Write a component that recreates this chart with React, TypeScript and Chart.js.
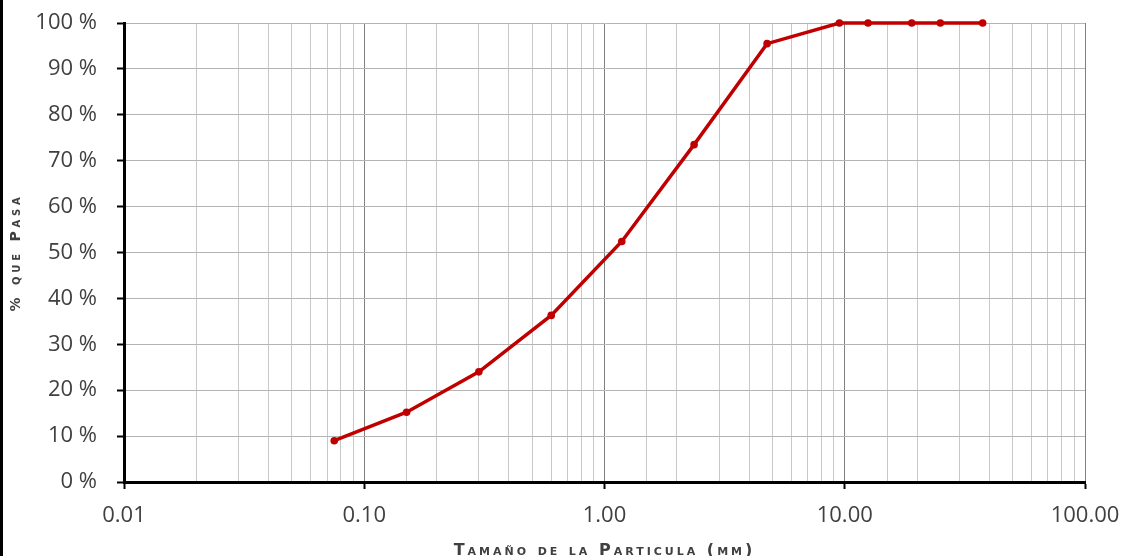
import React, { useEffect, useRef } from "react";
import { Chart, registerables } from "chart.js";

Chart.register(...registerables);

const sieveSizes = [0.075, 0.15, 0.3, 0.6, 1.18, 2.36, 4.75, 9.5, 12.5, 19, 25, 37.5];
const percentPassing = [9, 15.2, 24, 36.3, 52.4, 73.5, 95.5, 100, 100, 100, 100, 100];
const xTickLabels = ["0.01", "0.10", "1.00", "10.00", "100.00"];
const xTitle = "Tamaño de la Particula (mm)";
const yTitle = "% que Pasa";

const isPow10 = (v: number) => {
  const l = Math.log10(v);
  return Math.abs(l - Math.round(l)) < 1e-6;
};

const titleSpacing: Record<string, string> = { x: "3px", y: "3.8px" };

const spacedTitles = {
  id: "spacedTitles",
  afterLayout(chart: any) {
    for (const id of Object.keys(titleSpacing)) {
      const s = chart.scales[id];
      if (!s || s.__spaced) continue;
      const orig = s.drawTitle;
      s.drawTitle = function (...args: any[]) {
        const ctx = this.ctx;
        ctx.save();
        (ctx as any).letterSpacing = titleSpacing[id];
        orig.apply(this, args);
        ctx.restore();
      };
      s.__spaced = true;
    }
  },
};

export default function App() {
  const ref = useRef<HTMLCanvasElement | null>(null);
  useEffect(() => {
    if (!ref.current) return;
    const chart = new Chart(ref.current, {
      type: "line",
      data: {
        datasets: [
          {
            data: sieveSizes.map((x, i) => ({ x, y: percentPassing[i] })),
            borderColor: "#c00000",
            backgroundColor: "#c00000",
            borderWidth: 3.5,
            pointRadius: 3.8,
            pointBorderWidth: 0,
            tension: 0,
            clip: false as any,
          },
        ],
      },
      plugins: [spacedTitles],
      options: {
        animation: false,
        responsive: true,
        maintainAspectRatio: false,
        layout: { padding: { left: 0, right: 40, top: 23, bottom: 0 } },
        plugins: { legend: { display: false }, tooltip: { enabled: false } },
        scales: {
          x: {
            type: "logarithmic",
            min: 0.01,
            max: 100,
            afterFit: (s: any) => {
              s.height = 74;
              s.paddingLeft = 0;
              s.paddingRight = 0;
            },
            border: { display: true, color: "#000", width: 3 },
            grid: {
              color: (c: any) => (c.tick && isPow10(c.tick.value) ? "#808080" : "#c8c8c8"),
              lineWidth: 1,
              tickLength: 7,
              tickWidth: 2,
              tickColor: (c: any) => (c.tick && isPow10(c.tick.value) ? "#000" : "rgba(0,0,0,0)"),
            },
            ticks: {
              autoSkip: false,
              maxRotation: 0,
              padding: 14,
              color: "#404040",
              font: { family: "'Open Sans'", size: 22 },
              callback: (v: any) => {
                const n = Number(v);
                if (!isPow10(n)) return "";
                const idx = Math.round(Math.log10(n)) + 2;
                return xTickLabels[idx] ?? "";
              },
            },
            title: {
              display: true,
              text: xTitle,
              color: "#404040",
              padding: { top: 0, bottom: -4 },
              font: { family: "'DejaVu Sans'", size: 16, weight: "small-caps bold" as any },
            },
          },
          y: {
            min: 0,
            max: 100,
            afterFit: (s: any) => {
              s.width = 121;
              s.paddingTop = 0;
              s.paddingBottom = 0;
            },
            border: { display: true, color: "#000", width: 3 },
            grid: {
              color: "#b4b4b4",
              lineWidth: 1,
              tickLength: 7,
              tickWidth: 2,
              tickColor: "#000",
            },
            ticks: {
              stepSize: 10,
              padding: 20,
              color: "#404040",
              font: { family: "'Open Sans'", size: 22 },
              callback: (v: any) => v + " %",
            },
            title: {
              display: true,
              text: yTitle,
              color: "#404040",
              padding: { top: 5, bottom: 0 },
              font: { family: "'DejaVu Sans'", size: 14, weight: "small-caps bold" as any },
            },
          },
        },
      },
    });
    return () => chart.destroy();
  }, []);
  return (
    <div
      style={{
        position: "fixed",
        left: 0,
        top: 0,
        width: 1125,
        height: 556,
        borderLeft: "3px solid #000",
        boxSizing: "border-box",
        background: "#fff",
      }}
    >
      <div style={{ position: "relative", width: 1122, height: 556 }}>
        <canvas ref={ref} />
      </div>
    </div>
  );
}
